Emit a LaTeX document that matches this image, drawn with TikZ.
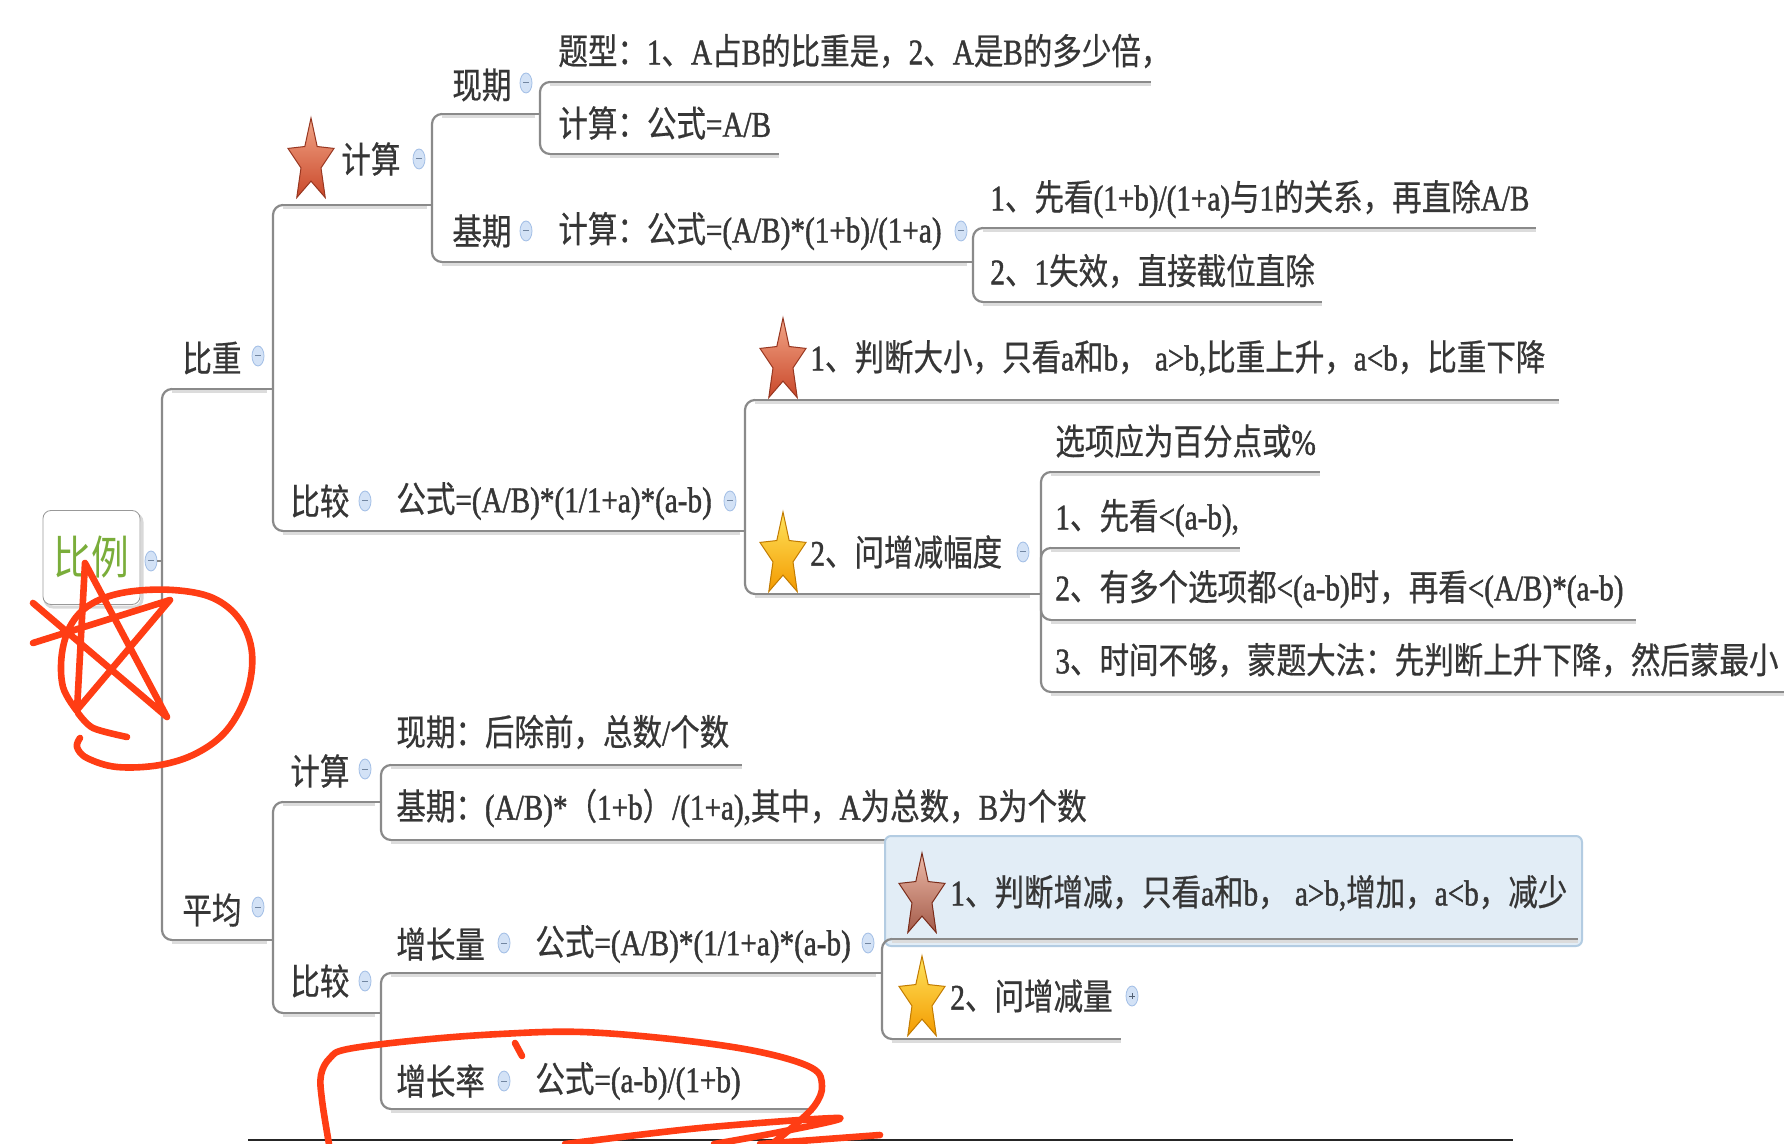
\documentclass[tikz,border=0pt]{standalone}
\usepackage{fontspec}
\setmainfont[FakeStretch=0.82,FakeBold=0.6]{Noto Sans CJK SC}
\newfontfamily\latfont[FakeStretch=0.81,FakeBold=1.2]{Liberation Serif}
\newcommand\latn[1]{{\latfont #1}}
\usetikzlibrary{shapes.geometric,calc}
\definecolor{txt}{HTML}{363636}
\definecolor{ln}{HTML}{8A8A8A}
\definecolor{lnsh}{HTML}{DCDCDC}
\definecolor{foldfill}{HTML}{D3E2F6}
\definecolor{foldln}{HTML}{A3BFE6}
\definecolor{scrib}{HTML}{FF3D14}
\definecolor{rootgreen}{HTML}{7AAD3A}
\definecolor{starR}{HTML}{C9482A}
\definecolor{starRl}{HTML}{F2A587}
\definecolor{starY}{HTML}{F39A00}
\definecolor{starYl}{HTML}{FFE45C}
\definecolor{hlfill}{HTML}{E2EDF6}
\definecolor{hlline}{HTML}{B3CCE2}
\tikzset{
  x=0.5pt, y=-0.5pt,
  topic/.style={anchor=west, inner sep=0pt, text=txt, font=\fontsize{18}{20}\selectfont},
  uline/.style={draw=ln, line width=1.2pt},
  ushadow/.style={draw=lnsh, line width=1.2pt},
  conn/.style={draw=ln, line width=1.1pt, rounded corners=5pt},
  plainconn/.style={draw=ln, line width=1.1pt},
  fold/.style={ellipse, minimum width=6pt, minimum height=10pt, inner sep=0pt,
    draw=foldln, fill=foldfill, line width=0.4pt,
    path picture={\draw[foldln!70!black, line width=0.5pt]
      ([xshift=-1.4pt]path picture bounding box.center) -- ([xshift=1.4pt]path picture bounding box.center);}},
  foldplus/.style={fold, path picture={\draw[foldln!50!black, line width=0.5pt]
      ([xshift=-1.4pt]path picture bounding box.center) -- ([xshift=1.4pt]path picture bounding box.center)
      ([yshift=-1.4pt]path picture bounding box.center) -- ([yshift=1.4pt]path picture bounding box.center);}},
  starbase/.style={star, star points=5, star point ratio=2.3, minimum size=44pt, inner sep=0pt,
    xscale=0.55, transform shape, line width=0.5pt},
  redstar/.style={starbase, draw=starR!75!black, top color=starRl, bottom color=starR},
  yelstar/.style={starbase, draw=starY!80!black, top color=starYl, bottom color=starY},
  mutedstar/.style={starbase, draw=starR!60!black, top color=starRl!70!hlfill, bottom color=starR!70!black!80},
  rootbox/.style={draw=black!40, fill=white, rounded corners=4pt, minimum width=48.5pt,
    minimum height=47pt, inner sep=0pt, text=rootgreen, font=\fontsize{23}{25}\selectfont},
  scribble/.style={draw=scrib, line width=3.3pt, line cap=round, line join=round}
}
\newcommand\mmline[4]{%
  \coordinate (#1-l) at (#2,#4);
  \coordinate (#1-r) at (#3,#4);
  \draw[ushadow] ([yshift=-1.3pt]#1-l) -- ([yshift=-1.3pt]#1-r);
  \draw[uline] (#1-l) -- (#1-r);}
\begin{document}
\begin{tikzpicture}
\fill[white] (0,0) rectangle (1784,1144);
\useasboundingbox (0,0) rectangle (1784,1144);

% ---------- root ----------
\draw[black!15, line width=1.5pt, rounded corners=4pt] (45,514) rectangle (142,607);
\node[rootbox] (root) at (91.5,557.5) {\addfontfeature{FakeBold=0}比例};
\node[fold] (rootf) at (151,561) {};
\coordinate (root-v) at (162,561);
\draw[plainconn] (rootf.east) -- (root-v);

% ---------- 比重 ----------
\mmline{bz}{172}{267}{389}
\node[topic] (bzt) at (182,358) {比重};
\node[fold] (bzf) at (258,356) {};
\coordinate (bz-v) at (273,389);
\draw[conn] (root-v) |- (bz-l);
\draw[plainconn] (bz-r) -- (bz-v);

% 计算
\mmline{js}{283}{427}{205}
\node[redstar] (jss) at (311,162) {};
\node[topic] (jst) at (341,159) {计算};
\node[fold] (jsf) at (419,159) {};
\coordinate (js-v) at (432,205);
\draw[conn] (bz-v) |- (js-l);
\draw[plainconn] (js-r) -- (js-v);

% 现期
\mmline{xq}{442}{535}{114}
\node[topic] (xqt) at (452,85) {现期};
\node[fold] (xqf) at (526,83) {};
\coordinate (xq-v) at (540,114);
\draw[conn] (js-v) |- (xq-l);
\draw[plainconn] (xq-r) -- (xq-v);

\mmline{tx}{550}{1151}{82}
\node[topic] (txt1) at (558,51) {题型：\latn{1}、\latn{A}占\latn{B}的比重是，\latn{2}、\latn{A}是\latn{B}的多少倍，};
\draw[conn] (xq-v) |- (tx-l);
\mmline{jab}{550}{779}{154}
\node[topic] (jabt) at (558,123) {计算：公式\latn{=A/B}};
\draw[conn] (xq-v) |- (jab-l);

% 基期
\mmline{jq}{442}{967}{262}
\node[topic] (jqt) at (452,231) {基期};
\node[fold] (jqf) at (526,231) {};
\node[topic] (jqg) at (558,231) {计算：公式\latn{=(A/B)*(1+b)/(1+a)}};
\node[fold] (jqgf) at (961,231) {};
\coordinate (jq-v) at (973,262);
\draw[conn] (js-v) |- (jq-l);
\draw[plainconn] (jq-r) -- (jq-v);

\mmline{jqa}{983}{1536}{228}
\node[topic] (jqat) at (990,199) {\latn{1}、先看\latn{(1+b)/(1+a)}与\latn{1}的关系，再直除\latn{A/B}};
\draw[conn] (jq-v) |- (jqa-l);
\mmline{jqb}{983}{1322}{302}
\node[topic] (jqbt) at (990,271) {\latn{2}、\latn{1}失效，直接截位直除};
\draw[conn] (jq-v) |- (jqb-l);

% 比较
\mmline{bj}{283}{740}{531}
\node[topic] (bjt) at (290,501) {比较};
\node[fold] (bjf) at (365,501) {};
\node[topic] (bjg) at (396,501) {公式\latn{=(A/B)*(1/1+a)*(a-b)}};
\node[fold] (bjgf) at (730,501) {};
\coordinate (bj-v) at (745,531);
\draw[conn] (bz-v) |- (bj-l);
\draw[plainconn] (bj-r) -- (bj-v);

\mmline{pd}{755}{1559}{400}
\node[redstar] (pds) at (783,362) {};
\node[topic] (pdt) at (810,358) {\latn{1}、判断大小，只看\latn{a}和\latn{b}，\latn{ a>b,}比重上升，\latn{a<b}，比重下降};
\draw[conn] (bj-v) |- (pd-l);

\mmline{wz}{755}{1030}{594}
\node[yelstar] (wzs) at (783,556) {};
\node[topic] (wzt) at (810,552) {\latn{2}、问增减幅度};
\node[fold] (wzf) at (1023,552) {};
\coordinate (wz-v) at (1041,594);
\draw[conn] (bj-v) |- (wz-l);
\draw[plainconn] (wz-r) -- (wz-v);

\mmline{xx}{1051}{1320}{472}
\node[topic] (xxt) at (1055,441) {选项应为百分点或\latn{\%}};
\draw[conn] (wz-v) |- (xx-l);
\mmline{xk}{1051}{1240}{548}
\node[topic] (xkt) at (1055,518) {\latn{1}、先看\latn{<(a-b),}};
\draw[conn] (wz-v) |- (xk-l);
\mmline{dg}{1051}{1636}{620}
\node[topic] (dgt) at (1055,589) {\latn{2}、有多个选项都\latn{<(a-b)}时，再看\latn{<(A/B)*(a-b)}};
\draw[conn] (wz-v) |- (dg-l);
\mmline{sj}{1051}{1784}{692}
\node[topic] (sjt) at (1055,660) {\latn{3}、时间不够，蒙题大法：先判断上升下降，然后蒙最小};
\draw[conn] (wz-v) |- (sj-l);

% ---------- 平均 ----------
\mmline{pj}{172}{267}{940}
\node[topic] (pjt) at (182,910) {平均};
\node[fold] (pjf) at (258,907) {};
\coordinate (pj-v) at (273,940);
\draw[conn] (root-v) |- (pj-l);
\draw[plainconn] (pj-r) -- (pj-v);

% 计算
\mmline{jsb}{283}{375}{802}
\node[topic] (jsbt) at (290,771) {计算};
\node[fold] (jsbf) at (365,769) {};
\coordinate (jsb-v) at (381,802);
\draw[conn] (pj-v) |- (jsb-l);
\draw[plainconn] (jsb-r) -- (jsb-v);

\mmline{xqb}{391}{742}{765}
\node[topic] (xqbt) at (396,732) {现期：后除前，总数\latn{/}个数};
\draw[conn] (jsb-v) |- (xqb-l);
\mmline{jqc}{391}{1092}{840}
\node[topic] (jqct) at (396,808) {基期：\latn{(A/B)*}（\latn{1+b}）\latn{/(1+a),}其中，\latn{A}为总数，\latn{B}为个数};
\draw[conn] (jsb-v) |- (jqc-l);

% 比较
\mmline{bjb}{283}{375}{1013}
\node[topic] (bjbt) at (290,981) {比较};
\node[fold] (bjbf) at (365,981) {};
\coordinate (bjb-v) at (381,1013);
\draw[conn] (pj-v) |- (bjb-l);
\draw[plainconn] (bjb-r) -- (bjb-v);

% highlighted box
\filldraw[fill=hlfill, draw=hlline, line width=1pt, rounded corners=3pt] (885,836) rectangle (1582,946);

\mmline{zl}{391}{876}{973}
\node[topic] (zlt) at (396,944) {增长量};
\node[fold] (zlf) at (504,943) {};
\node[topic] (zlg) at (535,944) {公式\latn{=(A/B)*(1/1+a)*(a-b)}};
\node[fold] (zlgf) at (868,943) {};
\coordinate (zl-v) at (882,973);
\draw[conn] (bjb-v) |- (zl-l);
\draw[plainconn] (zl-r) -- (zl-v);

\mmline{pz}{892}{1578}{939}
\node[mutedstar] (pzs) at (922,897) {};
\node[topic] (pzt) at (950,893) {\latn{1}、判断增减，只看\latn{a}和\latn{b}，\latn{ a>b,}增加，\latn{a<b}，减少};
\draw[conn] (zl-v) |- (pz-l);

\mmline{wl}{892}{1121}{1039}
\node[yelstar] (wls) at (922,1000) {};
\node[topic] (wlt) at (950,996) {\latn{2}、问增减量};
\node[foldplus] (wlf) at (1132,996) {};
\draw[conn] (zl-v) |- (wl-l);

\mmline{zr}{391}{814}{1109}
\node[topic] (zrt) at (396,1081) {增长率};
\node[fold] (zrf) at (504,1081) {};
\node[topic] (zrg) at (535,1081) {公式\latn{=(a-b)/(1+b)}};
\draw[conn] (bjb-v) |- (zr-l);

% bottom frame line
\draw[black!85, line width=1.3pt] (248,1140) -- (1513,1140);

% ---------- red hand-drawn marks ----------
\draw[scribble] (33,643) -- (170,600) -- (77,710) -- (85,563) -- (167,717) -- (33,603);
\draw[scribble] plot[smooth, tension=0.6] coordinates {(77,711) (63,687) (62,653) (72,623) (93,603) (127,592) (173,590) (213,598) (240,620) (252,653) (247,693) (227,730) (197,753) (160,765) (117,767) (87,758) (77,747) (80,738)};
\draw[scribble] plot[smooth] coordinates {(78,713) (93,728) (127,737)};
\draw[scribble] plot[smooth, tension=0.6] coordinates {(329,1144) (322,1100) (321,1075) (330,1058) (348,1049) (420,1040) (500,1034) (582,1032) (680,1040) (760,1052) (812,1068) (822,1086) (815,1105) (795,1125) (772,1144)};
\draw[scribble] (515,1043) -- (522,1056);
\draw[scribble] plot[smooth] coordinates {(565,1144) (700,1128) (839,1118) (780,1132) (714,1144)};
\draw[scribble] (760,1144) -- (880,1135);
\end{tikzpicture}
\end{document}
